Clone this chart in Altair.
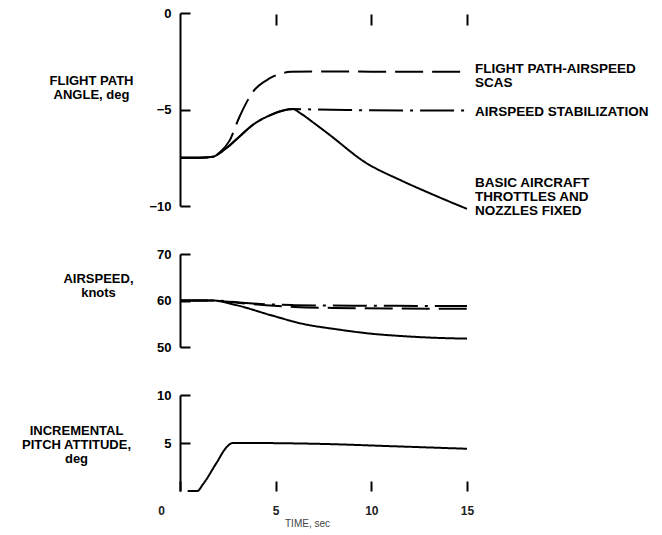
import altair as alt
import pandas as pd

FONT = "Liberation Sans"

# ---------------- data ----------------
series_names = ["Basic aircraft", "Airspeed stabilization", "Flight path-airspeed SCAS"]

# Flight path angle, deg
t_gamma_basic = [0, 1.0, 1.7, 2.3, 3.0, 3.8, 4.7, 5.4, 5.9, 6.3, 7.0, 7.8, 9.7, 11.5, 13.2, 15.0]
gamma_basic = [-7.5, -7.5, -7.45, -7.1, -6.5, -5.8, -5.3, -5.05, -4.98, -5.2, -5.7, -6.3, -7.75, -8.65, -9.4, -10.15]
t_gamma_stab = [0, 1.0, 1.7, 2.3, 3.0, 3.8, 4.7, 5.4, 5.9, 7.0, 9.0, 12.0, 15.0]
gamma_stab = [-7.5, -7.5, -7.45, -7.1, -6.5, -5.8, -5.3, -5.05, -4.98, -5.0, -5.03, -5.05, -5.05]
t_gamma_scas = [0, 1.0, 1.7, 2.1, 2.6, 3.1, 3.8, 4.7, 5.8, 7.0, 10.0, 15.0]
gamma_scas = [-7.5, -7.5, -7.45, -7.2, -6.6, -5.4, -4.1, -3.38, -3.05, -3.03, -3.04, -3.05]

# Airspeed, knots
t_v_basic = [0, 1.7, 2.95, 4.7, 6.4, 8.2, 9.9, 11.6, 13.2, 15.0]
v_basic = [60, 60, 59.0, 56.9, 55.0, 53.8, 52.9, 52.35, 52.0, 51.8]
t_v_stab = [0, 1.7, 3.0, 4.5, 6.0, 8.0, 11.0, 15.0]
v_stab = [60, 60, 59.6, 59.2, 59.0, 58.9, 58.85, 58.8]
t_v_scas = [0, 1.7, 3.0, 4.5, 6.0, 8.0, 11.0, 15.0]
v_scas = [60, 60, 59.5, 59.0, 58.6, 58.4, 58.3, 58.2]

# Incremental pitch attitude, deg
t_theta = [0.4, 0.9, 1.2, 1.9, 2.45, 2.75, 3.5, 7.5, 11.3, 15.0]
theta = [0, 0, 0.7, 2.9, 4.6, 5.0, 5.0, 4.9, 4.65, 4.4]

# axis ticks / labels
gamma_ticks = [0, -5, -10]
v_ticks = [50, 60, 70]
theta_ticks = [5, 10]
time_ticks = [0, 5, 10, 15]
time_top_ticks = [5, 10, 15]

label_scas = "FLIGHT PATH-AIRSPEED\nSCAS"
label_stab = "AIRSPEED STABILIZATION"
label_basic = "BASIC AIRCRAFT\nTHROTTLES AND\nNOZZLES FIXED"


def long_df(parts):
    rows = []
    for name, ts, vs in parts:
        for t, v in zip(ts, vs):
            rows.append({"series": name, "t": t, "value": v})
    return pd.DataFrame(rows)


gamma_df = long_df([
    (series_names[0], t_gamma_basic, gamma_basic),
    (series_names[1], t_gamma_stab, gamma_stab),
    (series_names[2], t_gamma_scas, gamma_scas),
])
v_df = long_df([
    (series_names[0], t_v_basic, v_basic),
    (series_names[1], t_v_stab, v_stab),
    (series_names[2], t_v_scas, v_scas),
])
theta_df = long_df([(series_names[0], t_theta, theta)])

# ---------------- styling helpers ----------------
xs = alt.Scale(domain=[0, 15], nice=False)
dash = alt.StrokeDash(
    "series:N",
    scale=alt.Scale(domain=series_names, range=[[1, 0], [34, 7, 3, 7], [28, 9]]),
    legend=None,
)


def main_y_axis(values, title, tx, ty):
    return alt.Axis(
        values=values, ticks=False, tickSize=0, domain=True, domainWidth=2,
        domainColor="black", grid=False, labelFont=FONT, labelFontSize=13,
        labelFontWeight="bold", labelColor="black", labelPadding=9,
        labelOverlap=False, format="d",
        title=title, titleAngle=0, titleAlign="center", titleBaseline="middle",
        titleX=tx, titleY=ty, titleFont=FONT, titleFontSize=13,
        titleFontWeight="bold", titleLineHeight=14, titleColor="black",
    )


def inward_y_axis(values):
    return alt.Axis(
        orient="left", offset=-10, values=values, tickSize=10, tickWidth=2,
        tickColor="black", domain=False, labels=False, grid=False, title=None,
    )


def lines(df, ys, yaxis, xaxis):
    return alt.Chart(df).mark_line(interpolate="monotone", strokeWidth=2, color="black").encode(
        x=alt.X("t:Q", scale=xs, axis=xaxis),
        y=alt.Y("value:Q", scale=ys, axis=yaxis),
        strokeDash=dash,
    )


def tick_layer(df, ys, values, xaxis):
    return alt.Chart(df).mark_line(opacity=0).encode(
        x=alt.X("t:Q", scale=xs, axis=xaxis),
        y=alt.Y("value:Q", scale=ys, axis=inward_y_axis(values)),
        detail="series:N",
    )


def end_label(text, t_end, v_end, ys, dy, xaxis):
    d = pd.DataFrame({"t": [t_end], "value": [v_end], "text": [text]})
    return alt.Chart(d).mark_text(
        align="left", baseline="middle", dx=8, dy=dy, lineBreak="\n",
        lineHeight=14, font=FONT, fontSize=13.5, fontWeight="bold", color="black",
    ).encode(
        x=alt.X("t:Q", scale=xs, axis=xaxis),
        y=alt.Y("value:Q", scale=ys, axis=None),
        text="text:N",
    )


# ---------------- panel 1: flight path angle ----------------
ys1 = alt.Scale(domain=[-10, 0], nice=False)
top_x_axis = alt.Axis(
    orient="top", offset=-12, values=time_top_ticks, tickSize=11, tickWidth=2,
    tickColor="black", domain=False, labels=False, grid=False, title=None,
)
p1 = alt.layer(
    lines(gamma_df, ys1, main_y_axis(gamma_ticks, ["FLIGHT PATH", "ANGLE, deg"], -89, 67), top_x_axis),
    tick_layer(gamma_df, ys1, gamma_ticks, top_x_axis),
    end_label(label_scas, t_gamma_scas[-1], gamma_scas[-1], ys1, -3, top_x_axis),
    end_label(label_stab, t_gamma_stab[-1], gamma_stab[-1], ys1, 1.5, top_x_axis),
    end_label(label_basic, t_gamma_basic[-1], gamma_basic[-1], ys1, -26, top_x_axis),
).resolve_axis(y="independent").properties(width=287, height=193)

# ---------------- panel 2: airspeed ----------------
ys2 = alt.Scale(domain=[50, 70], nice=False)
p2 = alt.layer(
    lines(v_df, ys2, main_y_axis(v_ticks, ["AIRSPEED,", "knots"], -82, 24), None),
    tick_layer(v_df, ys2, v_ticks, None),
).resolve_axis(y="independent").properties(width=287, height=93)

# ---------------- panel 3: pitch attitude ----------------
ys3 = alt.Scale(domain=[0, 10], nice=False)
bottom_x_axis = alt.Axis(
    orient="bottom", offset=-10, values=time_ticks, tickSize=10, tickWidth=2,
    tickColor="black", domain=False, grid=False, labelFlush=False, labelOverlap=False,
    labelPadding=14, labelFont=FONT, labelFontSize=12, labelFontWeight="bold",
    labelColor="#222",
    labelOffset={"condition": {"test": "datum.value === 0", "value": -19}, "value": 0},
    title="TIME, sec", titleX=127, titleY=42, titleAlign="center", titleBaseline="middle",
    titleFont=FONT, titleFontSize=10, titleFontWeight="normal", titleColor="#444",
)
p3 = alt.layer(
    lines(theta_df, ys3, main_y_axis(theta_ticks, ["INCREMENTAL", "PITCH ATTITUDE,", "deg"], -104, 35), bottom_x_axis),
    tick_layer(theta_df, ys3, theta_ticks, bottom_x_axis),
).resolve_axis(y="independent").properties(width=287, height=96)

chart = alt.vconcat(p1, p2, p3, spacing=48, bounds="flush").properties(
    padding={"left": 20, "top": 6, "right": 0, "bottom": 0},
    background="white",
).configure_view(stroke="transparent").configure_axis(grid=False)

chart.save("out.html", embed_options={"renderer": "svg", "actions": False})
